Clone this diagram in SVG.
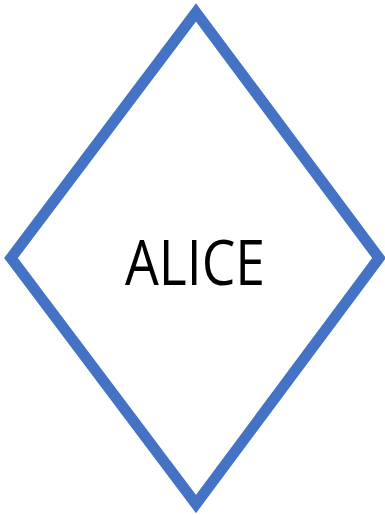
<svg xmlns="http://www.w3.org/2000/svg" width="385" height="515" viewBox="0 0 385 515">
<style>
.shape{fill:#FFFFFF;stroke:#4472C4;stroke-width:11;stroke-linejoin:miter;stroke-miterlimit:10}
.label{font-family:"Open Sans","Liberation Sans",sans-serif;font-size:62px;fill:#000000;text-anchor:middle}
</style>
<rect width="385" height="515" fill="#FFFFFF"/>
<g id="alice">
<polygon class="shape" points="196,12.5 379,258 196,504 11,258"/>
<text class="label" x="195" y="285" textLength="140" lengthAdjust="spacingAndGlyphs">ALICE</text>
</g>
<g id="connectors"/>
</svg>
